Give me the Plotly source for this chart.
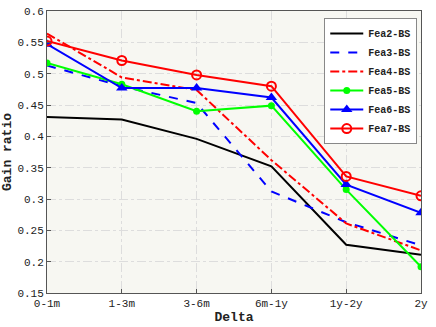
import plotly.graph_objects as go

categories = ["0-1m", "1-3m", "3-6m", "6m-1y", "1y-2y", "2y"]

fea2 = [0.431, 0.427, 0.396, 0.352, 0.227, 0.211]
fea3 = [0.513, 0.480, 0.453, 0.312, 0.263, 0.226]
fea4 = [0.564, 0.494, 0.474, 0.362, 0.261, 0.218]
fea5 = [0.517, 0.483, 0.440, 0.449, 0.315, 0.192]
fea6 = [0.547, 0.477, 0.477, 0.462, 0.323, 0.278]
fea7 = [0.552, 0.521, 0.498, 0.480, 0.336, 0.305]

FONT = "Liberation Mono, DejaVu Sans Mono, monospace"

series = [
    ("Fea2-BS", fea2, "#000000", "solid", None),
    ("Fea3-BS", fea3, "#0000FF", "dash", None),
    ("Fea4-BS", fea4, "#FF0000", "dashdot", None),
    ("Fea5-BS", fea5, "#00FF00", "solid", dict(symbol="circle", size=7)),
    ("Fea6-BS", fea6, "#0000FF", "solid", dict(symbol="triangle-up", size=10)),
    ("Fea7-BS", fea7, "#FF0000", "solid", dict(symbol="circle-open", size=9, line=dict(width=2))),
]

fig = go.Figure()
for name, vals, color, dash, marker in series:
    fig.add_trace(go.Scatter(
        x=categories, y=vals, name=name,
        mode="lines+markers" if marker else "lines",
        line=dict(color=color, width=2, dash=dash),
        marker=dict(color=color, **marker) if marker else None,
    ))

fig.update_layout(
    width=436, height=327,
    paper_bgcolor="white",
    plot_bgcolor="#F7F7F2",
    font=dict(family=FONT, size=11, color="#222"),
    margin=dict(l=45, r=15, t=6, b=33),
    showlegend=True,
    legend=dict(
        x=0.99, y=0.975, xanchor="right", yanchor="top",
        bgcolor="white", bordercolor="#888", borderwidth=1,
        font=dict(family=FONT, size=10, color="#222", weight="bold"),
        tracegroupgap=0, itemwidth=33,
    ),
    xaxis=dict(
        title=dict(text="<b>Delta</b>", standoff=2),
        showgrid=True, gridcolor="#DDDDDD", griddash="dashdot",
        showline=True, linecolor="#555", mirror=True,
        ticks="inside", ticklen=4, tickcolor="#555",
        range=[0, 5],
    ),
    yaxis=dict(
        title=dict(text="<b>Gain ratio</b>", standoff=2),
        range=[0.15, 0.6],
        tickvals=[0.15, 0.2, 0.25, 0.3, 0.35, 0.4, 0.45, 0.5, 0.55, 0.6],
        ticktext=["0.15", "0.2", "0.25", "0.3", "0.35", "0.4", "0.45", "0.5", "0.55", "0.6"],
        showgrid=True, gridcolor="#DDDDDD", griddash="dashdot",
        showline=True, linecolor="#555", mirror=True,
        ticks="inside", ticklen=4, tickcolor="#555",
        zeroline=False,
    ),
)

fig.write_html("out.html", config={"displayModeBar": False},
               post_script="document.body.style.margin='0';")
